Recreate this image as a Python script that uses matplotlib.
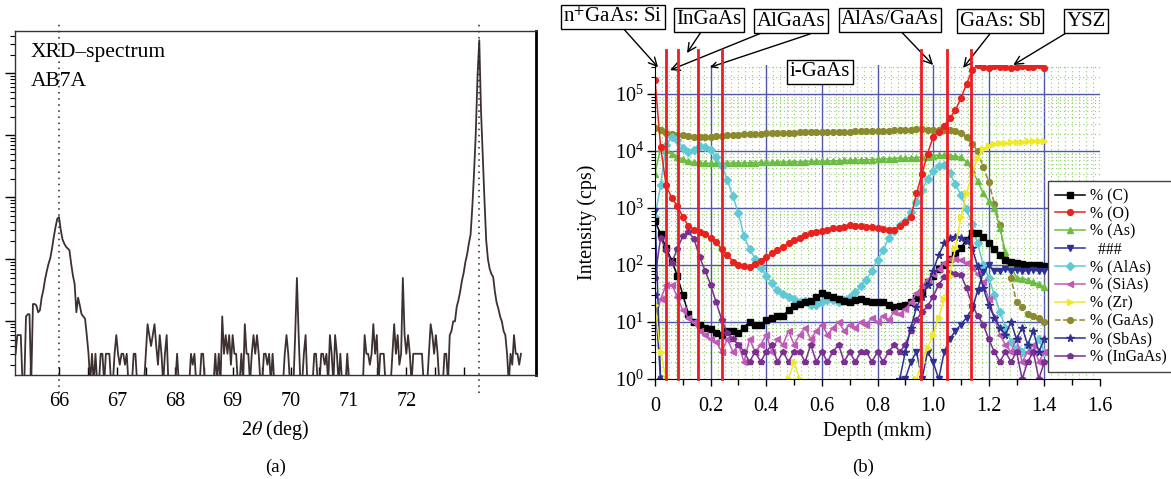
import numpy as np
import matplotlib
matplotlib.use("Agg")
import matplotlib.pyplot as plt
from matplotlib.ticker import FixedLocator, FuncFormatter, LogLocator, NullFormatter, MultipleLocator

plt.rcParams['font.family'] = ['Liberation Serif', 'DejaVu Serif']
plt.rcParams['mathtext.fontset'] = 'stix'

# ---------------- (a) XRD spectrum ----------------
tt_start, tt_step = 65.25, 0.03
xrd_counts = [
    3, 6, 6, 6, 1, 1, 12, 13, 13, 1,
    19, 19, 18, 14, 15, 24, 32, 48, 65, 85,
    105, 150, 230, 330, 450, 480, 300, 210, 180, 160,
    150, 140, 85, 55, 40, 14, 24, 18, 13, 12,
    11, 6, 3, 1, 3, 1, 3, 1, 1, 3,
    3, 1, 3, 3, 3, 1, 1, 3, 6, 3,
    2, 3, 3, 2, 3, 1, 1, 1, 3, 3,
    1, 1, 1, 1, 1, 3, 9, 6, 4, 6,
    9, 4, 2, 6, 3, 1, 3, 6, 1, 1,
    1, 1, 1, 3, 1, 1, 1, 1, 1, 1,
    1, 3, 2, 3, 1, 1, 1, 3, 3, 1,
    1, 1, 1, 1, 1, 3, 1, 3, 1, 12,
    3, 6, 3, 6, 2, 6, 3, 3, 1, 1,
    3, 1, 9, 3, 3, 1, 3, 6, 3, 6,
    3, 1, 1, 3, 3, 2, 3, 1, 3, 1,
    1, 1, 1, 1, 1, 3, 6, 3, 1, 1,
    1, 6, 50, 6, 1, 1, 3, 6, 1, 1,
    1, 1, 3, 3, 1, 1, 3, 3, 2, 3,
    1, 6, 3, 1, 6, 3, 1, 3, 1, 1,
    1, 3, 1, 1, 1, 1, 1, 1, 1, 1,
    1, 6, 3, 3, 2, 3, 9, 3, 6, 1,
    3, 3, 3, 1, 1, 1, 1, 3, 9, 3,
    6, 2, 3, 50, 6, 3, 6, 3, 1, 3,
    3, 3, 3, 3, 3, 1, 1, 1, 3, 9,
    6, 3, 6, 3, 1, 1, 1, 3, 3, 1,
    6, 7, 10, 10, 17, 22, 30, 45, 60, 90,
    120, 180, 250, 700, 2500, 11000, 90000, 340000, 25000, 4500,
    900, 200, 100, 70, 58, 52, 30, 20, 16, 12,
    10, 7, 6, 3, 1, 3, 2, 6, 3, 3,
    2, 3,
]
two_theta = np.round(tt_start + tt_step * np.arange(len(xrd_counts)), 2)
xrd_marks = [66.0, 73.25]
xrd_ticks = [66, 67, 68, 69, 70, 71, 72]

# ---------------- (b) SIMS depth profile ----------------
# 0 = below detection (not drawn on the log axis)
depth = np.round(np.arange(0, 1.41, 0.02), 2)

c_C = [600, 350, 200, 120, 65, 30, 14, 10, 9, 8,
       7.5, 6.5, 6, 7, 7, 6.5, 8, 10, 9, 9,
       11, 12, 13, 13, 16, 19, 21, 22, 23, 28,
       32, 30, 27, 25, 23, 22, 24, 25, 23, 22,
       22, 22, 20, 18, 19, 20, 22, 26, 33, 50,
       65, 85, 100, 130, 160, 200, 280, 370, 360, 310,
       240, 190, 150, 125, 115, 110, 105, 100, 100, 100,
       95]
c_O = [180000, 12000, 2500, 1500, 1100, 700, 480, 420, 380, 350,
       300, 250, 190, 150, 115, 100, 95, 92, 105, 120,
       140, 160, 185, 210, 240, 270, 300, 330, 360, 380,
       400, 420, 440, 450, 470, 500, 490, 480, 470, 460,
       450, 430, 410, 420, 480, 580, 700, 1800, 4000, 9000,
       17800, 22000, 28000, 38000, 52000, 85000, 150000, 260000, 320000, 300000,
       290000, 305000, 295000, 300000, 285000, 300000, 310000, 295000, 300000, 320000,
       290000]
c_As = [4000, 11500, 10500, 9000, 8000, 7200, 6600, 6300, 6200, 6100,
        6100, 6100, 6100, 6150, 6150, 6200, 6200, 6250, 6250, 6300,
        6300, 6350, 6400, 6400, 6450, 6500, 6500, 6550, 6600, 6600,
        6650, 6700, 6750, 6800, 6850, 6900, 6950, 7000, 7050, 7100,
        7200, 7250, 7300, 7400, 7450, 7500, 7600, 7700, 7800, 8000,
        8200, 8500, 8400, 8300, 8200, 7800, 6500, 4600, 3000, 1800,
        1350, 1000, 450, 170, 95, 60, 57, 55, 50, 46,
        41]
c_hash = [900, 1, 0, 0, 0, 0, 0, 0, 0, 0,
          0, 0, 0, 0, 0, 0, 0, 0, 0, 0,
          0, 0, 0, 0, 0, 0, 0, 0, 0, 0,
          0, 0, 0, 0, 0, 0, 0, 0, 0, 0,
          0, 0, 0, 0, 0, 1, 2, 3, 1, 3,
          2, 1, 3, 5, 7, 9, 12, 17, 35, 75,
          100, 80, 78, 85, 80, 82, 78, 80, 82, 78,
          80]
c_AlAs = [700, 2500, 13000, 18000, 15500, 11500, 9500, 10500, 12300, 12000,
          10500, 7800, 5500, 3100, 1600, 810, 320, 190, 130, 88,
          65, 48, 37, 31, 27, 25, 22, 23, 20, 20,
          22, 24, 24, 22, 24, 28, 33, 42, 55, 80,
          125, 180, 300, 400, 500, 600, 850, 1300, 2100, 3200,
          4500, 5500, 5700, 4100, 2600, 1700, 950, 520, 240, 100,
          60, 30, 15, 8, 4.5, 3.5, 3, 4, 3, 5,
          3]
c_SiAs = [10, 25, 45, 45, 28, 16, 12, 10, 7, 6,
          5, 4.5, 3, 5, 3, 4, 2, 5, 3, 4,
          6, 3, 5, 4, 7, 4, 6, 8, 5, 7,
          9, 6, 8, 10, 7, 9, 8, 10, 9, 12,
          10, 13, 11, 15, 14, 17, 22, 32, 42, 55,
          70, 85, 110, 130, 128, 125, 110, 90, 70, 50,
          25, 12, 6, 4, 3, 5, 2, 3, 4, 2,
          3]
c_Zr = [20, 3, 1, 0, 0, 0, 0, 0, 0, 0,
        0, 0, 0, 0, 0, 0, 0, 0, 0, 0,
        0, 0, 0, 0, 1, 2, 1, 0, 0, 0,
        0, 0, 0, 0, 0, 0, 0, 0, 0, 0,
        0, 0, 0, 0, 0, 0, 0, 1, 2, 3.5,
        6, 12, 25, 65, 200, 700, 1800, 4000, 7500, 11000,
        12500, 13500, 13800, 14000, 14300, 14500, 14700, 14800, 15000, 15000,
        15000]
c_GaAs = [25000, 23000, 21000, 20000, 19000, 19000, 18500, 18000, 17800, 17800,
          18000, 18200, 18500, 19000, 19000, 19500, 19800, 20000, 20000, 20200,
          20500, 20500, 20800, 21000, 21000, 21000, 21200, 21200, 21300, 21400,
          21500, 21500, 21800, 22000, 22000, 22000, 22200, 22300, 22400, 22400,
          22500, 22600, 22800, 23000, 23200, 23500, 23800, 24000, 24000, 23800,
          23700, 23600, 23500, 23400, 22500, 20500, 17500, 13500, 10000, 5200,
          2900, 1200, 500, 130, 60, 22, 18, 14, 13, 12,
          10]
c_SbAs = [30, 1, 0, 0, 0, 0, 0, 0, 0, 0,
          0, 0, 0, 0, 0, 0, 0, 0, 0, 0,
          0, 0, 0, 0, 0, 0, 0, 0, 0, 0,
          0, 0, 0, 0, 0, 0, 0, 0, 0, 0,
          0, 0, 0, 0, 1, 3, 8, 18, 28, 45,
          80, 150, 240, 300, 310, 300, 260, 200, 95, 40,
          20, 12, 8, 6, 10, 5, 8, 4, 7, 3,
          5]
c_InGaAs = [60, 300, 180, 110, 190, 320, 380, 290, 140, 80,
            45, 22, 11, 6.5, 5, 4, 3, 2, 3, 2,
            3, 4, 2, 3, 2, 3, 3, 2, 4, 2,
            3, 2, 3, 4, 2, 3, 2, 3, 3, 2,
            3, 2, 3, 4, 3, 4, 7, 11, 15, 19,
            28, 45, 62, 72, 70, 66, 40, 20, 13, 9,
            5, 3, 2, 3, 2, 3, 1, 2, 3, 1,
            2]

series = [
    ('% (C)', c_C, '#000000', 's', '-'),
    ('% (O)', c_O, '#e8231f', 'o', '-'),
    ('% (As)', c_As, '#6cbd45', '^', '-'),
    ('  ###', c_hash, '#2e3192', 'v', '-'),
    ('% (AlAs)', c_AlAs, '#5fc9d6', 'D', '-'),
    ('% (SiAs)', c_SiAs, '#c05ab8', '<', '-'),
    ('% (Zr)', c_Zr, '#eeea2a', '>', '-'),
    ('% (GaAs)', c_GaAs, '#8b8a2e', 'o', '--'),
    ('% (SbAs)', c_SbAs, '#303090', '*', '-'),
    ('% (InGaAs)', c_InGaAs, '#7b2f8e', 'p', '-'),
]
draw_order = [7, 2, 4, 1, 0, 5, 9, 3, 8, 6]

layer_bounds = [0.038, 0.082, 0.153, 0.240, 0.957, 1.049, 1.137]

# ---------------- figure ----------------
W, H = 1171, 479
fig = plt.figure(figsize=(W / 100, H / 100), dpi=100)


def box(l, t, r, b):
    return [l / W, 1 - b / H, (r - l) / W, (b - t) / H]


# ----- panel (a)
ax1 = fig.add_axes(box(15, 31, 536, 375))
ax1.plot(two_theta, xrd_counts, color='#3d3030', lw=1.3)
ax1.set_yscale('log')
ax1.set_xlim(65.24, 74.24)
ax1.set_ylim(10 ** 0.135, 10 ** 5.68)
for m in xrd_marks:
    ax1.plot([m, m], [10 ** -0.15, 10 ** 5.79], ls=(0, (1, 3)), color='#222222',
             lw=1.1, clip_on=False)
ax1.xaxis.set_major_locator(FixedLocator(np.arange(65.5, 73.01, 0.5)))
ax1.xaxis.set_major_formatter(FuncFormatter(
    lambda v, p: f'{int(round(v))}' if abs(v - round(v)) < 1e-6 and round(v) in xrd_ticks else ''))
ax1.tick_params(axis='x', direction='in', length=6, width=1, pad=12, labelsize=14.5, top=False)
ax1.yaxis.set_major_locator(LogLocator(base=10, numticks=12))
ax1.yaxis.set_minor_locator(LogLocator(base=10, subs=np.arange(2, 10), numticks=12))
ax1.yaxis.set_minor_formatter(NullFormatter())
ax1.tick_params(axis='y', which='major', direction='out', length=7, width=1, labelleft=False)
ax1.tick_params(axis='y', which='minor', direction='out', length=3.5, width=0.8)
for s in ['top', 'left', 'bottom']:
    ax1.spines[s].set_linewidth(1.0)
    ax1.spines[s].set_color('#333333')
ax1.spines['right'].set_linewidth(2.0)
ax1.set_xlabel(r'2$\theta$ (deg)', fontsize=14.5, labelpad=5)
fig.text(31 / W, 1 - 52 / H, 'XRD–spectrum', fontsize=15.5, va='center', ha='left')
fig.text(31 / W, 1 - 81 / H, 'AB7A', fontsize=15.5, va='center', ha='left')
fig.text(276 / W, 1 - 467 / H, '(a)', fontsize=13.5, va='center', ha='center')

# ----- panel (b)
ax2 = fig.add_axes(box(655, 65, 1100, 379))
ax2.set_yscale('log', nonpositive='mask')
ax2.set_xlim(0, 1.6)
ax2.set_ylim(1, 10 ** 5.51)

green = '#8fd066'
blue = '#5157a8'
for gx in np.arange(0.025, 1.59, 0.025):
    if abs(gx / 0.2 - round(gx / 0.2)) > 1e-6:
        ax2.axvline(gx, color=green, ls=(0, (1, 2.5)), lw=0.8, zorder=0)
ax2.yaxis.set_minor_locator(LogLocator(base=10, subs=np.arange(2, 10), numticks=12))
ax2.yaxis.set_minor_formatter(NullFormatter())
ax2.grid(True, axis='y', which='minor', color=green, ls=(0, (1, 2.5)), lw=0.8, zorder=0)
for gx in np.arange(0.2, 1.41, 0.2):
    ax2.axvline(gx, color=blue, lw=1.0, zorder=0.5)
for e in range(1, 6):
    ax2.axhline(10 ** e, color=blue, lw=1.0, zorder=0.5)

handles = [None] * len(series)
for k in draw_order:
    name, vals, col, mk, ls = series[k]
    ms = 5.5 if mk == '*' else 4.2
    ln, = ax2.plot(depth, np.array(vals, dtype=float), color=col, marker=mk, ms=ms,
                   lw=1.1, ls=ls, mec=col, mfc=col, zorder=2)
    handles[k] = ln

for b in layer_bounds:
    ax2.plot([b, b], [1, 10 ** 5.78], color='#ee1c24', lw=2.0, clip_on=False, zorder=4)

ax2.xaxis.set_major_locator(MultipleLocator(0.2))
ax2.xaxis.set_minor_locator(MultipleLocator(0.1))
ax2.xaxis.set_major_formatter(FuncFormatter(lambda v, p: '0' if abs(v) < 1e-9 else f'{v:.1f}'))
ax2.tick_params(axis='x', which='major', direction='out', length=5, width=1, pad=8, labelsize=14.5)
ax2.tick_params(axis='x', which='minor', direction='out', length=4, width=1)
ax2.tick_params(axis='y', which='major', direction='out', length=6, width=1, pad=2, labelsize=14.5)
ax2.tick_params(axis='y', which='minor', direction='out', length=3, width=0.8)
ax2.spines['top'].set_visible(False)
ax2.spines['right'].set_visible(False)
ax2.set_xlabel('Depth (mkm)', fontsize=14.5, labelpad=4)
ax2.set_ylabel('Intensity (cps)', fontsize=14.5, labelpad=13)
fig.text(863 / W, 1 - 467 / H, '(b)', fontsize=13.5, va='center', ha='center')

bbox = dict(boxstyle='square,pad=0.12', fc='white', ec='black', lw=1.0)
arrow = dict(arrowstyle='->', color='black', lw=1.0, shrinkA=0, shrinkB=0)
notes = [
    (r'n$^{+}$GaAs: Si', (613, 17), [(0.011, 10 ** 5.47)]),
    ('InGaAs', (709, 20), [(0.115, 10 ** 5.72)]),
    ('AlGaAs', (791, 21), [(0.054, 10 ** 5.42)]),
    ('AlAs/GaAs', (890, 20), [(1.0, 10 ** 5.51)]),
    ('GaAs: Sb', (1000, 21), [(1.108, 10 ** 5.46)]),
    ('YSZ', (1086, 21), [(1.288, 10 ** 5.51)]),
]
for txt, (tx, ty), tips in notes:
    for tip in tips:
        ax2.annotate(txt, xy=tip, xycoords='data', xytext=(tx, H - ty),
                     textcoords='figure pixels', ha='center', va='center',
                     fontsize=15, bbox=bbox, arrowprops=arrow, annotation_clip=False)
ax2.annotate('', xy=(0.198, 10 ** 5.47), xycoords='data', xytext=(810, H - 34),
             textcoords='figure pixels', arrowprops=arrow, annotation_clip=False)
fig.text(820 / W, 1 - 72 / H, 'i-GaAs', fontsize=15, ha='center', va='center', bbox=bbox)

leg = fig.legend(handles, [s[0] for s in series], loc='upper left',
                 bbox_to_anchor=(1048 / W, 1 - 181 / H), bbox_transform=fig.transFigure,
                 fontsize=11.3, frameon=True, fancybox=False, framealpha=1,
                 edgecolor='#444444', borderaxespad=0, labelspacing=0.12,
                 handlelength=1.9, handletextpad=0.35, borderpad=0.45)
leg.get_frame().set_linewidth(1.0)

fig.savefig('out.png', dpi=100)
